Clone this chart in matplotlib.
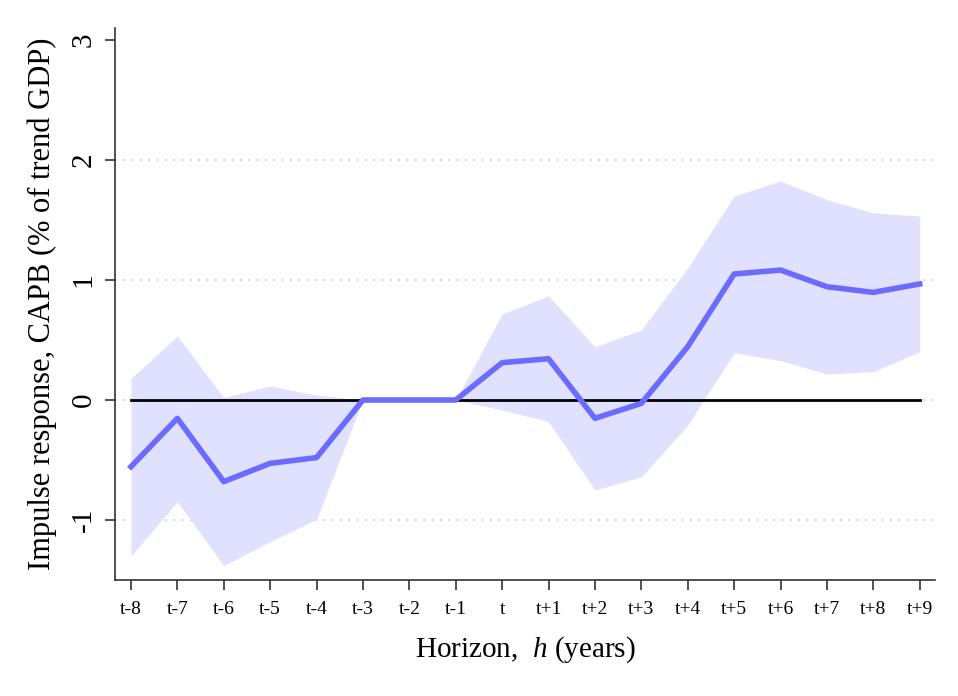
import matplotlib
matplotlib.use("Agg")
import matplotlib.pyplot as plt
import numpy as np

horizons = ["t-8", "t-7", "t-6", "t-5", "t-4", "t-3", "t-2", "t-1", "t",
            "t+1", "t+2", "t+3", "t+4", "t+5", "t+6", "t+7", "t+8", "t+9"]
irf = [-0.556, -0.153, -0.68, -0.528, -0.48, 0.0, 0.0, 0.0, 0.311,
       0.344, -0.153, -0.028, 0.444, 1.05, 1.083, 0.944, 0.897, 0.967]
upper = [0.18, 0.533, 0.02, 0.117, 0.04, 0.0, 0.0, 0.0, 0.717,
         0.867, 0.444, 0.583, 1.10, 1.70, 1.825, 1.67, 1.56, 1.533]
lower = [-1.3, -0.847, -1.38, -1.18, -0.994, 0.0, 0.0, 0.0, -0.083,
         -0.18, -0.75, -0.64, -0.21, 0.394, 0.328, 0.217, 0.236, 0.403]
yticks = [-1, 0, 1, 2, 3]

plt.rcParams['font.family'] = ['Liberation Serif', 'DejaVu Serif']
plt.rcParams['mathtext.fontset'] = 'custom'
plt.rcParams['mathtext.it'] = 'Liberation Serif:italic'
plt.rcParams['mathtext.rm'] = 'Liberation Serif'

fig = plt.figure(figsize=(9.58, 6.96), dpi=100)
ax = fig.add_axes([0.12, 0.1667, 0.856, 0.793])

x = np.arange(len(horizons))
ax.fill_between(x, lower, upper, color='#e0e0ff', linewidth=0, zorder=1)
for g in [-1, 0, 1, 2]:
    ax.axhline(g, color='#c4c4c4', linestyle=(0, (1, 4)), linewidth=1.2, zorder=0)
ax.plot([x[0], x[-1]], [0, 0], color='black', linewidth=2, zorder=2)
ax.plot(x, irf, color='#6b6bff', linewidth=4, zorder=3)

ax.set_xlim(-0.345, 17.33)
ax.set_ylim(-1.5, 3.1)
ax.set_xticks(x)
ax.set_xticklabels(horizons, fontsize=14)
ax.set_yticks(yticks)
ax.set_yticklabels([str(v) for v in yticks], fontsize=21, rotation=90, va='center')

for s in ['top', 'right']:
    ax.spines[s].set_visible(False)
for s in ['left', 'bottom']:
    ax.spines[s].set_color('#333333')
    ax.spines[s].set_linewidth(1.2)
ax.tick_params(axis='both', direction='out', length=7, width=1.2, color='#333333')
ax.tick_params(axis='x', pad=8)
ax.tick_params(axis='y', pad=6)

ax.set_ylabel('Impulse response, CAPB (% of trend GDP)', fontsize=22, labelpad=10)
ax.set_xlabel('Horizon,  $h$ (years)', fontsize=21, labelpad=12)

fig.savefig('out.png', dpi=100, facecolor='white')
